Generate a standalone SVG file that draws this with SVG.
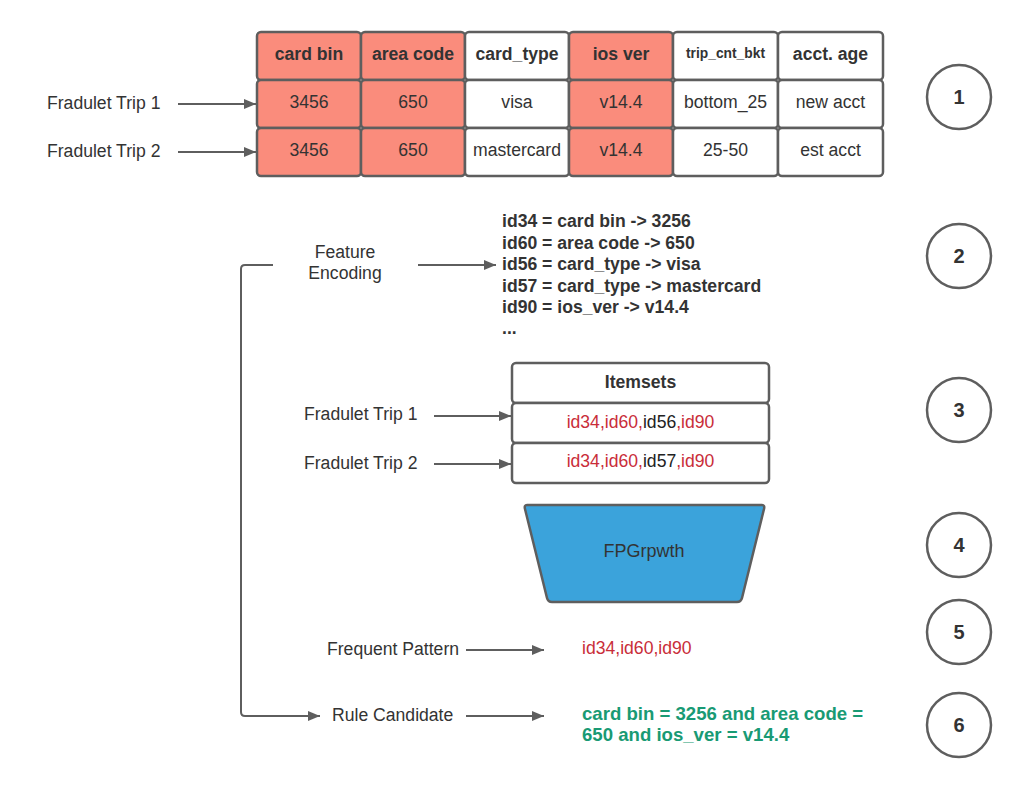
<svg xmlns="http://www.w3.org/2000/svg" width="1024" height="791" viewBox="0 0 1024 791">
<defs>
<marker id="ah" markerWidth="12" markerHeight="10" refX="12" refY="5" orient="auto" markerUnits="userSpaceOnUse">
<path d="M0,0 L12,5 L0,10 Z" fill="#5e5e5e"/>
</marker>
</defs>
<style>
text{font-family:"Liberation Sans",Arial,sans-serif;fill:#333333;font-size:17.6px}
.c{text-anchor:middle}
.b{font-weight:bold}
.cell{stroke:#5e5e5e;stroke-width:2.5}
.red{fill:#fa8c7c}
.wht{fill:#ffffff}
.conn{stroke:#5e5e5e;stroke-width:2;fill:none}
.rt{fill:#c92d39}
.bt{fill:#222222}
.gt{fill:#199a74;font-weight:bold;font-size:18.6px}
.num{font-weight:bold;font-size:20px;text-anchor:middle}
.circ{fill:#ffffff;stroke:#5e5e5e;stroke-width:2.5}
</style>
<rect width="1024" height="791" fill="#ffffff"/>

<g id="table1">
<rect class="cell red" x="257" y="32" width="104" height="48" rx="4"/>
<rect class="cell red" x="361" y="32" width="104" height="48" rx="4"/>
<rect class="cell wht" x="465" y="32" width="104" height="48" rx="4"/>
<rect class="cell red" x="569" y="32" width="104" height="48" rx="4"/>
<rect class="cell wht" x="673" y="32" width="105" height="48" rx="4"/>
<rect class="cell wht" x="778" y="32" width="105" height="48" rx="4"/>
<rect class="cell red" x="257" y="80" width="104" height="48" rx="4"/>
<rect class="cell red" x="361" y="80" width="104" height="48" rx="4"/>
<rect class="cell wht" x="465" y="80" width="104" height="48" rx="4"/>
<rect class="cell red" x="569" y="80" width="104" height="48" rx="4"/>
<rect class="cell wht" x="673" y="80" width="105" height="48" rx="4"/>
<rect class="cell wht" x="778" y="80" width="105" height="48" rx="4"/>
<rect class="cell red" x="257" y="128" width="104" height="48" rx="4"/>
<rect class="cell red" x="361" y="128" width="104" height="48" rx="4"/>
<rect class="cell wht" x="465" y="128" width="104" height="48" rx="4"/>
<rect class="cell red" x="569" y="128" width="104" height="48" rx="4"/>
<rect class="cell wht" x="673" y="128" width="105" height="48" rx="4"/>
<rect class="cell wht" x="778" y="128" width="105" height="48" rx="4"/>
<text class="c b" x="309" y="60">card bin</text>
<text class="c b" x="413" y="60">area code</text>
<text class="c b" x="517" y="60">card_type</text>
<text class="c b" x="621" y="60">ios ver</text>
<text class="c b" x="725.5" y="58" style="font-size:13.8px">trip_cnt_bkt</text>
<text class="c b" x="830.5" y="60">acct. age</text>
<text class="c" x="309" y="108">3456</text>
<text class="c" x="413" y="108">650</text>
<text class="c" x="517" y="108">visa</text>
<text class="c" x="621" y="108">v14.4</text>
<text class="c" x="725.5" y="108">bottom_25</text>
<text class="c" x="830.5" y="108">new acct</text>
<text class="c" x="309" y="156">3456</text>
<text class="c" x="413" y="156">650</text>
<text class="c" x="517" y="156">mastercard</text>
<text class="c" x="621" y="156">v14.4</text>
<text class="c" x="725.5" y="156">25-50</text>
<text class="c" x="830.5" y="156">est acct</text>
</g>

<g id="trip-labels-1">
<text x="47" y="109">Fradulet Trip 1</text>
<text x="47" y="157">Fradulet Trip 2</text>
</g>

<g id="feature-encoding">
<text class="c" x="345" y="258">Feature</text>
<text class="c" x="345" y="279">Encoding</text>
</g>

<g id="encoding-list">
<text class="b" x="502" y="227">id34 = card bin -&gt; 3256</text>
<text class="b" x="502" y="248.5">id60 = area code -&gt; 650</text>
<text class="b" x="502" y="270">id56 = card_type -&gt; visa</text>
<text class="b" x="502" y="291.5">id57 = card_type -&gt; mastercard</text>
<text class="b" x="502" y="313">id90 = ios_ver -&gt; v14.4</text>
<text class="b" x="502" y="334">...</text>
</g>

<g id="itemsets">
<rect class="cell wht" x="512" y="363" width="257" height="40" rx="4"/>
<rect class="cell wht" x="512" y="403" width="257" height="40" rx="4"/>
<rect class="cell wht" x="512" y="443" width="257" height="40" rx="4"/>
<text class="c b" x="640.5" y="388">Itemsets</text>
<text class="c" x="640.5" y="428"><tspan class="rt">id34,id60,</tspan><tspan class="bt">id56</tspan><tspan class="rt">,id90</tspan></text>
<text class="c" x="640.5" y="467"><tspan class="rt">id34,id60,</tspan><tspan class="bt">id57</tspan><tspan class="rt">,id90</tspan></text>
</g>

<g id="trip-labels-3">
<text x="304" y="420">Fradulet Trip 1</text>
<text x="304" y="469">Fradulet Trip 2</text>
</g>

<g id="fpgrowth">
<path d="M527,505 L762,505 Q765,505 764,509 L742,598 Q741,602 737,602 L552,602 Q548,602 547,598 L525,509 Q524,505 527,505 Z" fill="#3ba3db" stroke="#5e5e5e" stroke-width="2.5"/>
<text class="c" x="644" y="557" style="font-size:18px">FPGrpwth</text>
</g>

<g id="frequent-pattern">
<text x="327" y="655">Frequent Pattern</text>
<text class="rt" x="582" y="654">id34,id60,id90</text>
</g>

<g id="rule-candidate">
<text x="332" y="721">Rule Candidate</text>
<text class="gt" x="582" y="720">card bin = 3256 and area code =</text>
<text class="gt" x="582" y="741">650 and ios_ver = v14.4</text>
</g>

<g id="steps">
<circle class="circ" cx="959" cy="97" r="32"/>
<text class="num" x="959" y="104">1</text>
<circle class="circ" cx="959" cy="256" r="32"/>
<text class="num" x="959" y="263">2</text>
<circle class="circ" cx="959" cy="410" r="32"/>
<text class="num" x="959" y="417">3</text>
<circle class="circ" cx="959" cy="545" r="32"/>
<text class="num" x="959" y="552">4</text>
<circle class="circ" cx="959" cy="632" r="32"/>
<text class="num" x="959" y="639">5</text>
<circle class="circ" cx="959" cy="725" r="32"/>
<text class="num" x="959" y="732">6</text>
</g>

<g id="connectors">
<line class="conn" x1="178" y1="104" x2="256" y2="104" marker-end="url(#ah)"/>
<line class="conn" x1="178" y1="152" x2="256" y2="152" marker-end="url(#ah)"/>
<line class="conn" x1="418" y1="265" x2="496" y2="265" marker-end="url(#ah)"/>
<line class="conn" x1="434" y1="416" x2="511" y2="416" marker-end="url(#ah)"/>
<line class="conn" x1="434" y1="464" x2="511" y2="464" marker-end="url(#ah)"/>
<line class="conn" x1="466" y1="650" x2="544" y2="650" marker-end="url(#ah)"/>
<line class="conn" x1="466" y1="716" x2="544" y2="716" marker-end="url(#ah)"/>
<path class="conn" d="M273,265 L245,265 Q241,265 241,269 L241,712 Q241,716 245,716 L320,716" marker-end="url(#ah)"/>
</g>
</svg>
